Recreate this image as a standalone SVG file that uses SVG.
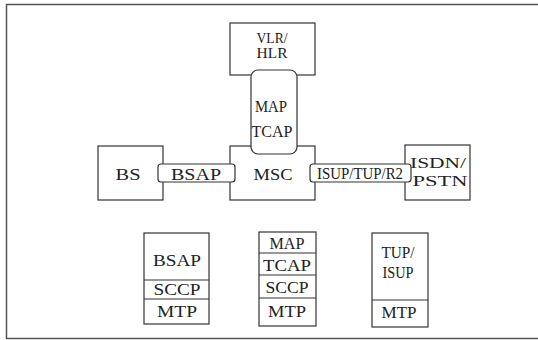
<svg xmlns="http://www.w3.org/2000/svg" width="538" height="340" viewBox="0 0 538 340">
<style>
.b{fill:#fff;stroke:#333;stroke-width:1.2}
.f{fill:none;stroke:#555;stroke-width:1.5}
.l{stroke:#333;stroke-width:1.2}
text{font-family:"Liberation Serif","DejaVu Serif",serif;fill:#222;text-anchor:middle}
.t{font-size:17px}
.m{font-size:15.5px}
.s{font-size:15px}
</style>
<rect width="538" height="340" fill="#fff"/>
<path class="f" d="M538 4.5H6.5V338.5H538"/>
<g id="vlr">
<rect class="b" x="230" y="23" width="85" height="52"/>
<text class="s" x="272" y="43" textLength="31" lengthAdjust="spacingAndGlyphs">VLR/</text>
<text class="s" x="272" y="58" textLength="31" lengthAdjust="spacingAndGlyphs">HLR</text>
</g>
<g id="msc">
<rect class="b" x="230" y="146" width="85" height="54"/>
<text class="t" x="273" y="180" textLength="39" lengthAdjust="spacingAndGlyphs">MSC</text>
</g>
<g id="bs">
<rect class="b" x="98" y="146" width="65" height="54"/>
<text class="t" x="128" y="180" textLength="25" lengthAdjust="spacingAndGlyphs">BS</text>
</g>
<g id="isdn">
<rect class="b" x="405" y="145" width="65" height="55"/>
<text class="m" x="438" y="168" textLength="56" lengthAdjust="spacingAndGlyphs">ISDN/</text>
<text class="m" x="440" y="186" textLength="55" lengthAdjust="spacingAndGlyphs">PSTN</text>
</g>
<g id="connectors">
<g id="map-tcap">
<rect class="b" x="251" y="70" width="46" height="84" rx="7"/>
<text class="t" x="271" y="112" textLength="32" lengthAdjust="spacingAndGlyphs">MAP</text>
<text class="t" x="272" y="137" textLength="41" lengthAdjust="spacingAndGlyphs">TCAP</text>
</g>
<g id="bsap">
<rect class="b" x="158" y="164" width="77" height="18" rx="3"/>
<text class="t" x="196" y="180" textLength="50" lengthAdjust="spacingAndGlyphs">BSAP</text>
</g>
<g id="isup">
<rect class="b" x="310" y="164" width="101" height="18" rx="3"/>
<text class="t" x="360" y="179" textLength="86" lengthAdjust="spacingAndGlyphs">ISUP/TUP/R2</text>
</g>
</g>
<g id="stack-bsap">
<rect class="b" x="144" y="233" width="65" height="91"/>
<line class="l" x1="144" y1="280" x2="209" y2="280"/>
<line class="l" x1="144" y1="299" x2="209" y2="299"/>
<text class="t" x="177" y="266" textLength="48" lengthAdjust="spacingAndGlyphs">BSAP</text>
<text class="t" x="177" y="295" textLength="47" lengthAdjust="spacingAndGlyphs">SCCP</text>
<text class="t" x="177" y="317" textLength="40" lengthAdjust="spacingAndGlyphs">MTP</text>
</g>
<g id="stack-map">
<rect class="b" x="259" y="232" width="57" height="94"/>
<line class="l" x1="259" y1="253" x2="316" y2="253"/>
<line class="l" x1="259" y1="275" x2="316" y2="275"/>
<line class="l" x1="259" y1="298" x2="316" y2="298"/>
<text class="t" x="287" y="249" textLength="35" lengthAdjust="spacingAndGlyphs">MAP</text>
<text class="t" x="287" y="271" textLength="48" lengthAdjust="spacingAndGlyphs">TCAP</text>
<text class="t" x="287" y="293" textLength="43" lengthAdjust="spacingAndGlyphs">SCCP</text>
<text class="t" x="287" y="317" textLength="38" lengthAdjust="spacingAndGlyphs">MTP</text>
</g>
<g id="stack-isup">
<rect class="b" x="372" y="233" width="56" height="94"/>
<line class="l" x1="372" y1="300" x2="428" y2="300"/>
<text class="t" x="398" y="258" textLength="33" lengthAdjust="spacingAndGlyphs">TUP/</text>
<text class="t" x="398" y="278" textLength="31" lengthAdjust="spacingAndGlyphs">ISUP</text>
<text class="t" x="399" y="318" textLength="35" lengthAdjust="spacingAndGlyphs">MTP</text>
</g>
</svg>
